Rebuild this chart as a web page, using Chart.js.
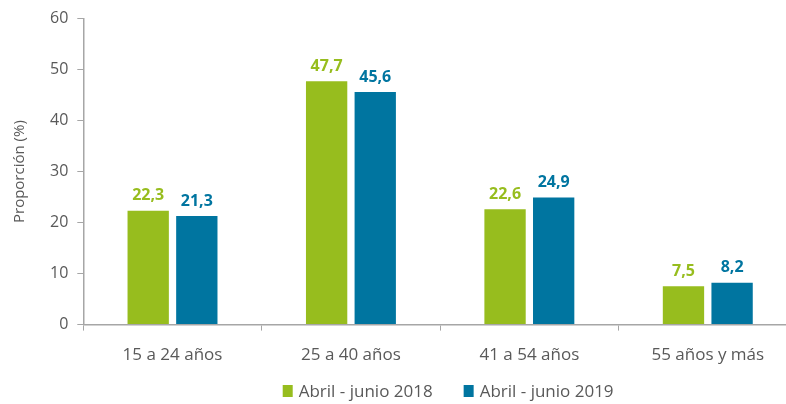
<!DOCTYPE html>
<html>
<head>
<meta charset="utf-8">
<script src="https://cdn.jsdelivr.net/npm/chart.js@4.4.1/dist/chart.umd.min.js"></script>
<style>
  html, body { margin: 0; padding: 0; background: #fff; overflow: hidden; }
  #wrap { width: 786px; height: 404px; overflow: hidden; }
</style>
</head>
<body>
<div id="wrap"><canvas id="chart" width="797" height="404"></canvas></div>
<script>
const categorias = ["15 a 24 años", "25 a 40 años", "41 a 54 años", "55 años y más"];
const valores2018 = [22.3, 47.7, 22.6, 7.5];
const valores2019 = [21.3, 45.6, 24.9, 8.2];
const series = ["Abril - junio 2018", "Abril - junio 2019"];
const colores = ["#97bd1e", "#0075a0"];
const ticksY = [0, 10, 20, 30, 40, 50, 60];

const gris = "#595959";
const fuente = "'Open Sans', sans-serif";

// etiquetas de valor sobre cada barra
const etiquetas = {
  id: "etiquetas",
  afterDatasetsDraw(chart) {
    const ctx = chart.ctx;
    ctx.save();
    ctx.font = "bold 16px " + fuente;
    ctx.textAlign = "center";
    ctx.textBaseline = "bottom";
    chart.data.datasets.forEach((ds, i) => {
      chart.getDatasetMeta(i).data.forEach((bar, j) => {
        ctx.fillStyle = ds.backgroundColor;
        ctx.fillText(ds.data[j].toFixed(1).replace(".", ","), bar.x, bar.y - 7);
      });
    });
    ctx.restore();
  }
};

// leyenda dibujada a mano para poder separar mas los elementos
const leyenda = {
  id: "leyenda",
  afterDraw(chart) {
    const ctx = chart.ctx;
    const area = chart.chartArea;
    const caja = 10, hueco = 6, separacion = 31;
    const y = 392;
    ctx.save();
    ctx.font = "17px " + fuente;
    ctx.textBaseline = "middle";
    const items = chart.data.datasets.map(ds => ({
      texto: ds.label,
      color: ds.backgroundColor,
      ancho: caja + hueco + ctx.measureText(ds.label).width
    }));
    const total = items.reduce((s, it) => s + it.ancho, 0) + separacion * (items.length - 1);
    let x = (area.left + area.right) / 2 + 8 - total / 2;
    items.forEach(it => {
      ctx.fillStyle = it.color;
      ctx.fillRect(x, y - 7, caja, 12);
      ctx.fillStyle = gris;
      ctx.fillText(it.texto, x + caja + hueco, y);
      x += it.ancho + separacion;
    });
    ctx.restore();
  }
};

new Chart(document.getElementById("chart"), {
  type: "bar",
  data: {
    labels: categorias,
    datasets: [
      { label: series[0], data: valores2018, backgroundColor: colores[0] },
      { label: series[1], data: valores2019, backgroundColor: colores[1] }
    ]
  },
  options: {
    responsive: false,
    animation: false,
    devicePixelRatio: 1,
    categoryPercentage: 0.545,
    barPercentage: 0.85,
    layout: { padding: { top: 6, left: 11, right: 0, bottom: 25 } },
    scales: {
      x: {
        grid: { display: true, drawOnChartArea: false, offset: true, color: "#a6a6a6", tickLength: 6 },
        border: { color: "#a6a6a6", width: 1.5 },
        ticks: { color: gris, font: { family: fuente, size: 17 }, padding: 14 }
      },
      y: {
        min: 0,
        max: 60,
        afterBuildTicks(axis) { axis.ticks = ticksY.map(v => ({ value: v })); },
        grid: { display: true, drawOnChartArea: false, color: "#a6a6a6", tickLength: 6 },
        border: { color: "#a6a6a6", width: 1.5 },
        ticks: { color: gris, font: { family: fuente, size: 16 }, padding: 9 },
        title: {
          display: true,
          text: "Proporción (%)",
          color: gris,
          font: { family: fuente, size: 15 },
          padding: { top: 0, bottom: 12 }
        }
      }
    },
    plugins: {
      legend: { display: false },
      tooltip: { enabled: false }
    }
  },
  plugins: [etiquetas, leyenda]
});
</script>
</body>
</html>
